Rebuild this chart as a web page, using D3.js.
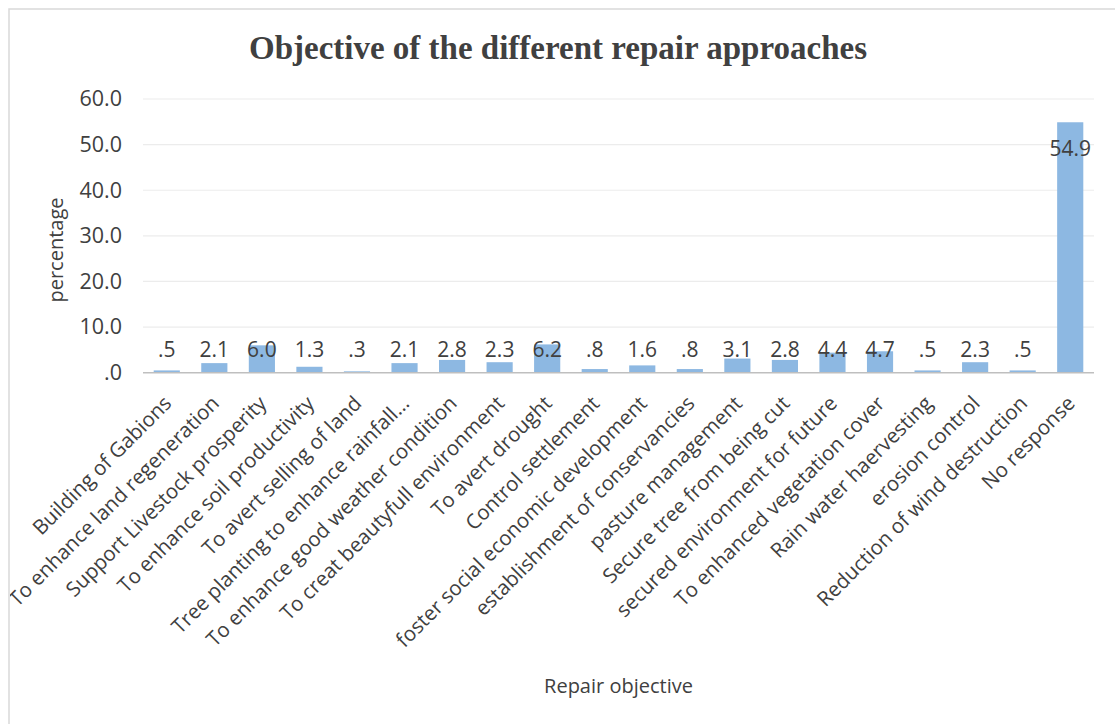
<!DOCTYPE html>
<html>
<head>
<meta charset="utf-8">
<script src="https://cdn.jsdelivr.net/npm/d3@7"></script>
<style>
  html, body { margin: 0; padding: 0; background: #ffffff; }
  svg { display: block; }
  text { fill: #404040; }
</style>
</head>
<body>
<svg id="chart" width="1115" height="724"></svg>
<script>
// Repair objectives and the share of responses (%) for each
const categories = [
  "Building of Gabions",
  "To enhance land regeneration",
  "Support Livestock prosperity",
  "To enhance soil productivity",
  "To avert selling of land",
  "Tree planting to enhance rainfall…",
  "To enhance good weather condition",
  "To creat beautyfull environment",
  "To avert drought",
  "Control settlement",
  "foster social economic development",
  "establishment of conservancies",
  "pasture management",
  "Secure tree from being cut",
  "secured environment for future",
  "To enhanced vegetation cover",
  "Rain water haervesting",
  "erosion control",
  "Reduction of wind destruction",
  "No response"
];
const percentages = [0.5, 2.1, 6.0, 1.3, 0.3, 2.1, 2.8, 2.3, 6.2, 0.8, 1.6, 0.8, 3.1, 2.8, 4.4, 4.7, 0.5, 2.3, 0.5, 54.9];
const yTicks = [0, 10, 20, 30, 40, 50, 60];

const titleText = "Objective of the different repair approaches";
const xTitle = "Repair objective";
const yTitle = "percentage";

const data = categories.map((c, i) => ({ name: c, value: percentages[i] }));

// Values printed as in the source table: one decimal, no leading zero
const fmt = v => v.toFixed(1).replace(/^0\./, ".");

const svg = d3.select("#chart");
const font = "'Open Sans', 'DejaVu Sans', sans-serif";

// Frame of the chart area (only its top and left edges fall inside the page)
const clip = svg.append("defs").append("clipPath").attr("id", "frame-clip");
clip.append("rect").attr("x", 10).attr("y", 10).attr("width", 1200).attr("height", 800);

svg.append("rect")
  .attr("x", 9).attr("y", 9)
  .attr("width", 1300).attr("height", 900)
  .attr("fill", "#ffffff")
  .attr("stroke", "#d9d9d9")
  .attr("stroke-width", 1.5);

const plot = { left: 143, right: 1094, top: 99, bottom: 372.7 };

const x = d3.scaleBand()
  .domain(categories)
  .range([plot.left, plot.right])
  .paddingInner(0.45)
  .paddingOuter(0.225);

const y = d3.scaleLinear()
  .domain([0, 60])
  .range([plot.bottom, plot.top]);

const g = svg.append("g").attr("clip-path", "url(#frame-clip)");

// Horizontal gridlines
g.append("g")
  .selectAll("line")
  .data(yTicks.filter(t => t > 0))
  .join("line")
  .attr("x1", plot.left).attr("x2", plot.right)
  .attr("y1", d => y(d)).attr("y2", d => y(d))
  .attr("stroke", "#ececec")
  .attr("stroke-width", 1.2);

// Y axis labels (no axis line)
const yAxis = d3.axisLeft(y).tickValues(yTicks).tickFormat(fmt).tickSize(0).tickPadding(21);
const yg = g.append("g").attr("transform", `translate(${plot.left},0)`).call(yAxis);
yg.select(".domain").remove();
yg.selectAll("text")
  .style("font-family", font)
  .style("font-size", "21.5px")
  .attr("fill", "#404040");

// Bars
g.append("g")
  .selectAll("rect")
  .data(data)
  .join("rect")
  .attr("x", d => x(d.name))
  .attr("width", x.bandwidth())
  .attr("y", d => y(d.value))
  .attr("height", d => y(0) - y(d.value))
  .attr("fill", "#8db8e2");

// Baseline
g.append("line")
  .attr("x1", plot.left).attr("x2", plot.right)
  .attr("y1", y(0)).attr("y2", y(0))
  .attr("stroke", "#bfbfbf")
  .attr("stroke-width", 1.5);

// Value labels: inside the top of tall bars, otherwise just above the baseline
g.append("g")
  .selectAll("text")
  .data(data)
  .join("text")
  .attr("x", d => x(d.name) + x.bandwidth() / 2)
  .attr("y", d => Math.min(y(d.value) + 34, y(0) - 16))
  .attr("text-anchor", "middle")
  .style("font-family", font)
  .style("font-size", "21px")
  .text(d => fmt(d.value));

// Rotated category labels
g.append("g")
  .selectAll("text")
  .data(data)
  .join("text")
  .attr("transform", d => `translate(${x(d.name) + x.bandwidth() / 2 + 6},${y(0) + 32}) rotate(-45)`)
  .attr("text-anchor", "end")
  .style("font-family", font)
  .style("font-size", "20.5px")
  .text(d => d.name);

// Title
g.append("text")
  .attr("x", 558).attr("y", 59)
  .attr("text-anchor", "middle")
  .style("font-family", "'Liberation Serif', 'Times New Roman', serif")
  .style("font-weight", "bold")
  .style("font-size", "33px")
  .attr("fill", "#3a3a3a")
  .text(titleText);

// Axis titles
g.append("text")
  .attr("x", (plot.left + plot.right) / 2)
  .attr("y", 693)
  .attr("text-anchor", "middle")
  .style("font-family", font)
  .style("font-size", "20px")
  .text(xTitle);

g.append("text")
  .attr("transform", "translate(63,250) rotate(-90)")
  .attr("text-anchor", "middle")
  .style("font-family", font)
  .style("font-size", "20px")
  .text(yTitle);
</script>
</body>
</html>
